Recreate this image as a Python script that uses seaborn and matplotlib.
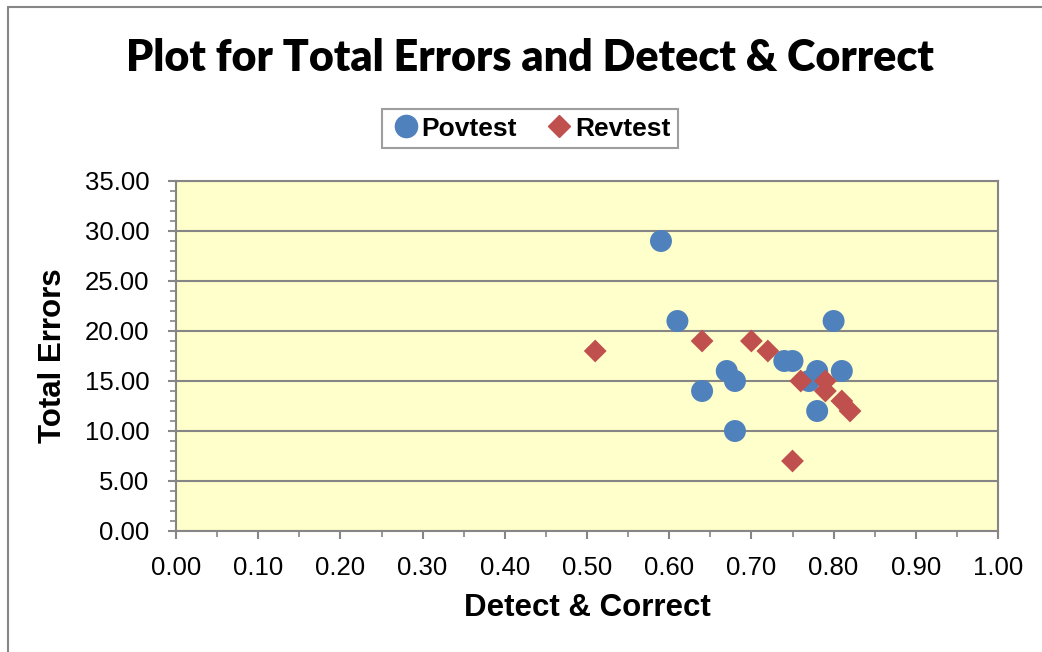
import matplotlib.pyplot as plt
import numpy as np
import pandas as pd
import seaborn as sns
from matplotlib.lines import Line2D
from matplotlib.ticker import MultipleLocator

# values
pov_x = [0.59, 0.61, 0.64, 0.67, 0.68, 0.68, 0.74, 0.75, 0.77, 0.78, 0.78, 0.80, 0.81]
pov_y = [29, 21, 14, 16, 15, 10, 17, 17, 15, 16, 12, 21, 16]
rev_x = [0.51, 0.64, 0.70, 0.72, 0.75, 0.76, 0.79, 0.79, 0.81, 0.82]
rev_y = [18, 19, 19, 18, 7, 15, 15, 14, 13, 12]

df_pov = pd.DataFrame({'x': pov_x, 'y': pov_y})
df_rev = pd.DataFrame({'x': rev_x, 'y': rev_y})

sns.set_style('white')
plt.rcParams['font.family'] = ['Liberation Sans', 'DejaVu Sans']
plt.rcParams['text.color'] = 'black'
plt.rcParams['axes.labelcolor'] = 'black'

blue = '#4F81BD'
red = '#C0504D'
grey = '#868686'

fig = plt.figure(figsize=(10.42, 6.52), dpi=100)
ax = fig.add_axes([176 / 1042, 1 - 531 / 652, (998 - 176) / 1042, (531 - 181) / 652])
ax.set_facecolor('#FFFFCC')

sns.scatterplot(x='x', y='y', data=df_pov, ax=ax, marker='o', s=250,
                color=blue, edgecolor='none', zorder=3)
sns.scatterplot(x='x', y='y', data=df_rev, ax=ax, marker='D', s=135,
                color=red, edgecolor='none', zorder=3)

ax.set_xlim(0, 1)
ax.set_ylim(0, 35)
ax.xaxis.set_major_locator(MultipleLocator(0.1))
ax.xaxis.set_minor_locator(MultipleLocator(0.05))
ax.yaxis.set_major_locator(MultipleLocator(5))
ax.yaxis.set_minor_locator(MultipleLocator(1))
ax.set_xticklabels(['%.2f' % v for v in ax.get_xticks()])
ax.set_yticklabels(['%.2f' % v for v in ax.get_yticks()])
ax.yaxis.grid(True, color=grey, linewidth=1.5)
ax.set_axisbelow(True)
for s in ax.spines.values():
    s.set_color(grey)
    s.set_linewidth(1.5)
ax.tick_params(which='major', direction='out', length=6, width=1.5, color=grey,
               labelcolor='black', labelsize=18.5, left=True, bottom=True)
ax.tick_params(axis='y', which='major', pad=13)
ax.tick_params(axis='x', which='major', pad=12)
ax.tick_params(which='minor', direction='out', length=4, width=1.2, color=grey,
               left=True, bottom=True)

ax.set_xlabel('Detect & Correct', fontsize=22.5, fontweight='bold', labelpad=9)
ax.set_ylabel('Total Errors', fontsize=22.5, fontweight='bold', labelpad=12)

fig.text(0.509, 1 - 58 / 652, 'Plot for Total Errors and Detect & Correct',
         ha='center', va='center', fontsize=31, fontweight='heavy',
         family=['Lato', 'DejaVu Sans'], color='black')

handles = [Line2D([], [], marker='o', color=blue, linestyle='none', markersize=16),
           Line2D([], [], marker='D', color=red, linestyle='none', markersize=11)]
leg = fig.legend(handles, ['Povtest', 'Revtest'], loc='center',
                 bbox_to_anchor=(530 / 1042, 1 - 128.5 / 652), ncol=2,
                 prop={'size': 19, 'weight': 'bold'}, frameon=True,
                 fancybox=False, edgecolor=grey, handletextpad=0.0,
                 columnspacing=1.0, handlelength=1.2, borderpad=0.3)
leg.get_frame().set_linewidth(1.5)

# outer chart border (left and top visible in the reference)
fig.add_artist(Line2D([8 / 1042, 8 / 1042], [0, 1 - 7 / 652], color=grey, linewidth=1.5))
fig.add_artist(Line2D([8 / 1042, 1], [1 - 7 / 652, 1 - 7 / 652], color=grey, linewidth=1.5))

fig.savefig('out.png', dpi=100)
